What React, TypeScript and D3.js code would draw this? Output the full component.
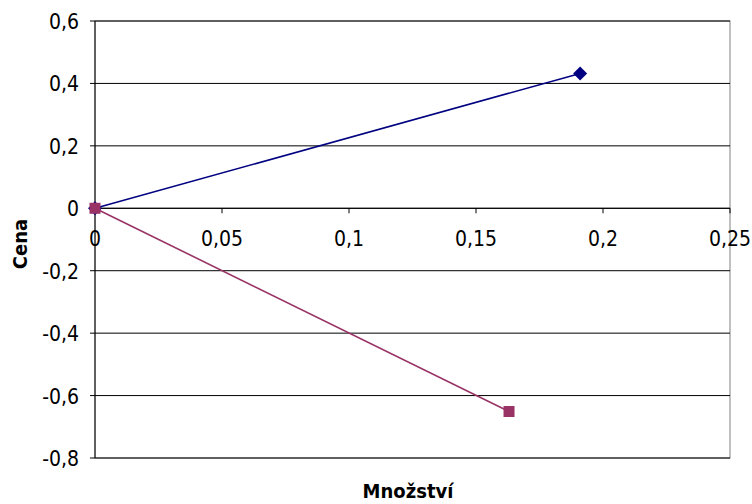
import React from "react";
import * as d3 from "d3";

const seriesNames = ["Poptávka", "Nabídka"];
const blueX = [0, 0.191];
const blueY = [0, 0.432];
const pinkX = [0, 0.163];
const pinkY = [0, -0.651];
const xTicks = [0, 0.05, 0.1, 0.15, 0.2, 0.25];
const yTicks = [0.6, 0.4, 0.2, 0, -0.2, -0.4, -0.6, -0.8];
const xTitle = "Množství";
const yTitle = "Cena";

const W = 752;
const H = 504;
const L = 95, R = 730, T = 21, B = 458;
const FONT = "'DejaVu Sans Condensed', 'Noto Sans', sans-serif";

const fmt = (v: number) => String(v).replace(".", ",");

export default function App() {
  const x = d3.scaleLinear().domain([0, 0.25]).range([L, R]);
  const y = d3.scaleLinear().domain([-0.8, 0.6]).range([B, T]);
  const line = d3
    .line<[number, number]>()
    .x((d) => x(d[0]))
    .y((d) => y(d[1]));
  const blue: [number, number][] = blueX.map((v, i) => [v, blueY[i]]);
  const pink: [number, number][] = pinkX.map((v, i) => [v, pinkY[i]]);
  const y0 = y(0);
  const diamond = (cx: number, cy: number, r: number) =>
    `M${cx},${cy - r}L${cx + r},${cy}L${cx},${cy + r}L${cx - r},${cy}Z`;

  return (
    <svg
      width={W}
      height={H}
      style={{ position: "absolute", left: 0, top: 0, background: "#fff" }}
      fontFamily={FONT}
    >
      <rect x={0} y={0} width={W} height={H} fill="#fff" />
      <rect x={L} y={T} width={R - L} height={B - T} fill="none" stroke="#808080" strokeWidth={1} />
      {yTicks.map((t) => (
        <line key={"g" + t} x1={L} x2={R} y1={y(t)} y2={y(t)} stroke="#000" strokeWidth={1} />
      ))}
      {/* y axis */}
      <line x1={L} x2={L} y1={T} y2={B} stroke="#000" strokeWidth={1} />
      {yTicks.map((t) => (
        <g key={"yt" + t}>
          <line x1={L - 5} x2={L} y1={y(t)} y2={y(t)} stroke="#000" strokeWidth={1} />
          <text x={79} y={y(t) + 8} textAnchor="end" fontSize={21} fill="#000">
            {fmt(t)}
          </text>
        </g>
      ))}
      {/* x axis at 0 */}
      <line x1={L} x2={R} y1={y0} y2={y0} stroke="#000" strokeWidth={1} />
      {xTicks.map((t) => (
        <g key={"xt" + t}>
          <line x1={x(t)} x2={x(t)} y1={y0} y2={y0 + 5} stroke="#000" strokeWidth={1} />
          <text x={x(t)} y={246} textAnchor="middle" fontSize={21} fill="#000">
            {fmt(t)}
          </text>
        </g>
      ))}
      {/* series */}
      <path d={line(blue) || ""} fill="none" stroke="#000080" strokeWidth={1.6} />
      {blue.map((d, i) => (
        <path key={"bd" + i} d={diamond(x(d[0]), y(d[1]), 7)} fill="#000080" />
      ))}
      <path d={line(pink) || ""} fill="none" stroke="#993366" strokeWidth={1.6} />
      {pink.map((d, i) => (
        <rect key={"ps" + i} x={x(d[0]) - 5.5} y={y(d[1]) - 5.5} width={11} height={11} fill="#993366" />
      ))}
      {/* titles */}
      <text x={408} y={498} textAnchor="middle" fontSize={20} fontWeight="bold" fill="#000">
        {xTitle}
      </text>
      <text
        transform={`translate(27,244) rotate(-90)`}
        textAnchor="middle"
        fontSize={20}
        fontWeight="bold"
        fill="#000"
      >
        {yTitle}
      </text>
      <title>{seriesNames.join(", ")}</title>
    </svg>
  );
}
